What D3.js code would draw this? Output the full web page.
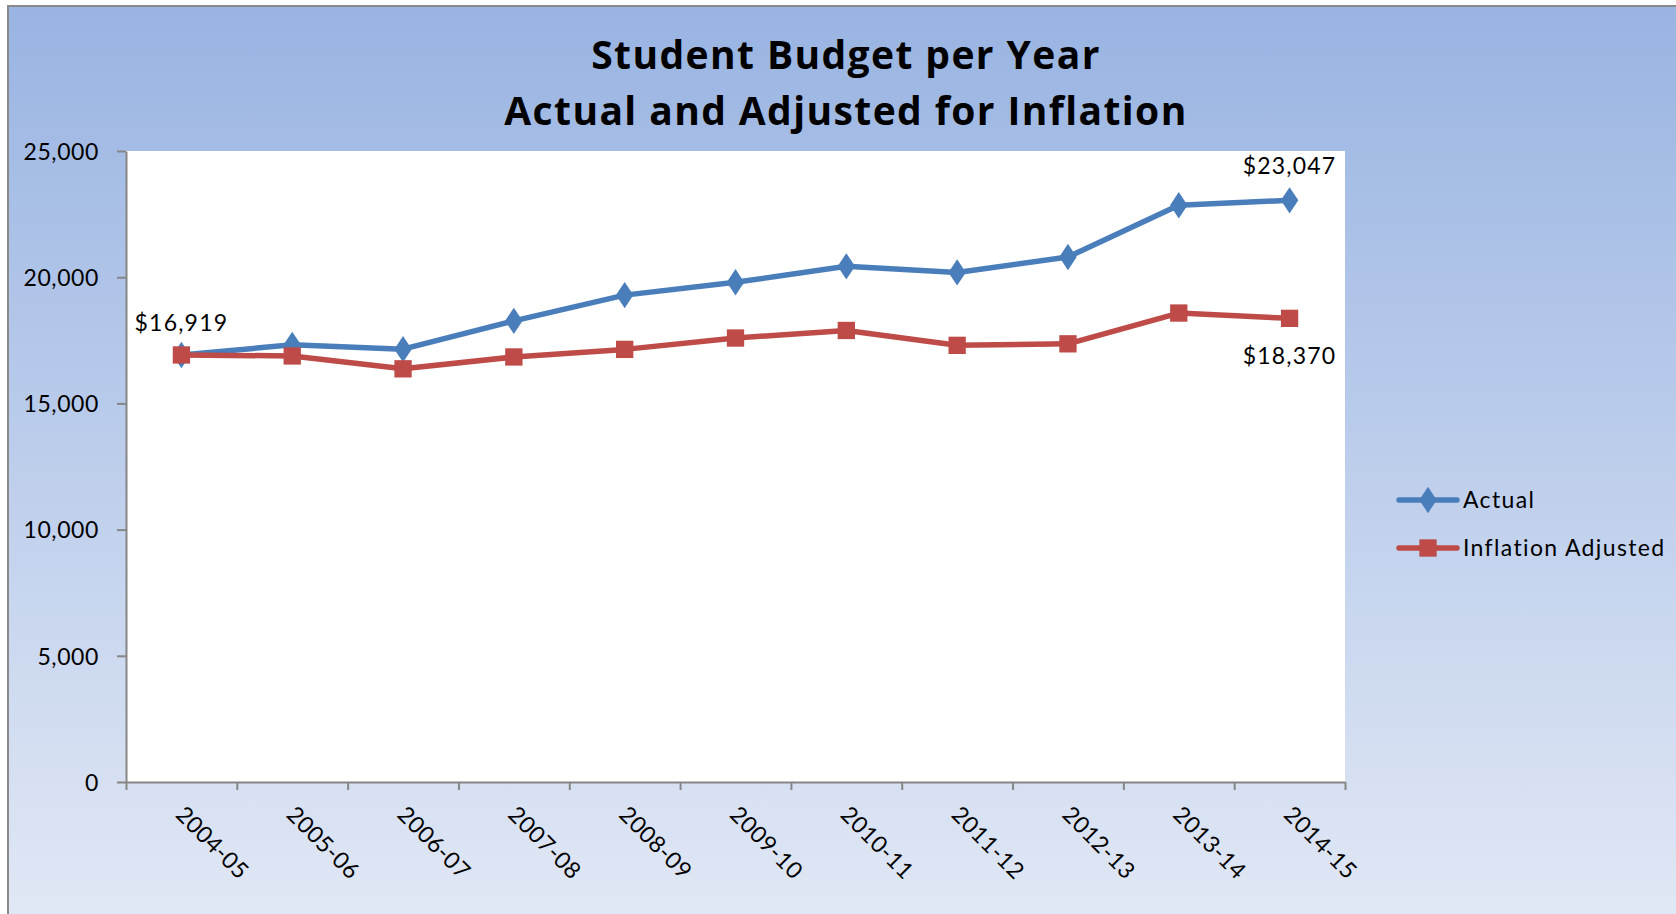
<!DOCTYPE html>
<html>
<head>
<meta charset="utf-8">
<script src="https://cdn.jsdelivr.net/npm/d3@7"></script>
<style>
  body { margin: 0; background: #fff; }
  text { font-family: Lato, "Open Sans", sans-serif; fill: #000; }
</style>
</head>
<body>
<div id="chart"></div>
<script>
// Data
const years = ["2004-05", "2005-06", "2006-07", "2007-08", "2008-09", "2009-10",
               "2010-11", "2011-12", "2012-13", "2013-14", "2014-15"];
const actual = [16919, 17320, 17150, 18270, 19290, 19800, 20430, 20190, 20800, 22850, 23047];
const adjusted = [16919, 16880, 16370, 16840, 17140, 17590, 17890, 17300, 17360, 18580, 18370];
const yTicks = [0, 5000, 10000, 15000, 20000, 25000];
const seriesNames = ["Actual", "Inflation Adjusted"];
const seriesColors = ["#4A7EBB", "#BE4B48"];

const W = 1676, H = 914;
const plot = { left: 126, top: 151, right: 1345, bottom: 782 };

const svg = d3.select("#chart")
    .append("svg")
    .attr("width", W)
    .attr("height", H);

// background gradient
const grad = svg.append("defs").append("linearGradient")
    .attr("id", "bg")
    .attr("x1", 0).attr("y1", 0).attr("x2", 0).attr("y2", 1);
grad.append("stop").attr("offset", "0%").attr("stop-color", "#99B4E2");
grad.append("stop").attr("offset", "100%").attr("stop-color", "#E1E8F5");

svg.append("rect")
    .attr("x", 8).attr("y", 6)
    .attr("width", W).attr("height", H)
    .attr("fill", "url(#bg)")
    .attr("stroke", "#8A8A8A")
    .attr("stroke-width", 2);

// plot area
svg.append("rect")
    .attr("x", plot.left).attr("y", plot.top)
    .attr("width", plot.right - plot.left)
    .attr("height", plot.bottom - plot.top)
    .attr("fill", "#fff");

// scales
const x = d3.scaleBand()
    .domain(years)
    .range([plot.left, plot.right])
    .padding(0);

const xEdges = d3.scaleLinear()
    .domain([0, years.length])
    .range([plot.left, plot.right]);

const y = d3.scaleLinear()
    .domain([0, 25000])
    .range([plot.bottom, plot.top]);

const cx = d => x(d) + x.bandwidth() / 2;

// y axis
const gy = svg.append("g")
    .attr("transform", `translate(${plot.left},0)`)
    .call(d3.axisLeft(y)
        .tickValues(yTicks)
        .tickFormat(d3.format(","))
        .tickSize(9)
        .tickSizeOuter(0)
        .tickPadding(18));
gy.selectAll("text")
    .style("font-size", "23px")
    .style("letter-spacing", "0.6px")
    .attr("dy", "0.36em");

// x axis: ticks between categories
const gx = svg.append("g")
    .attr("transform", `translate(0,${plot.bottom})`)
    .call(d3.axisBottom(xEdges)
        .tickValues(d3.range(years.length + 1))
        .tickFormat("")
        .tickSize(8)
        .tickSizeOuter(0));

[gx, gy].forEach(g => {
    g.select(".domain").attr("stroke", "#868686").attr("stroke-width", 2);
    g.selectAll(".tick line").attr("stroke", "#868686").attr("stroke-width", 2);
});

// rotated category labels
svg.append("g")
    .selectAll("text")
    .data(years)
    .join("text")
    .attr("transform", d => `translate(${cx(d) - 7},${plot.bottom + 34}) rotate(45)`)
    .attr("text-anchor", "start")
    .style("font-size", "23px")
    .style("letter-spacing", "0.4px")
    .text(d => d);

// title
const title = svg.append("text")
    .attr("x", 846)
    .attr("text-anchor", "middle")
    .style("font-family", "'Open Sans', Lato, sans-serif")
    .style("font-size", "39px")
    .style("font-weight", "bold")
    .style("letter-spacing", "1.4px");
title.append("tspan").attr("x", 846).attr("y", 69).text("Student Budget per Year");
title.append("tspan").attr("x", 846).attr("y", 125).text("Actual and Adjusted for Inflation");

// lines
const line = d3.line()
    .x((d, i) => cx(years[i]))
    .y(d => y(d));

const series = [actual, adjusted];
series.forEach((vals, k) => {
    svg.append("path")
        .datum(vals)
        .attr("fill", "none")
        .attr("stroke", seriesColors[k])
        .attr("stroke-width", 5.5)
        .attr("stroke-linejoin", "round")
        .attr("d", line);
});

// markers
const diamond = d3.symbol().type(d3.symbolDiamond).size(200);
const square = d3.symbol().type(d3.symbolSquare).size(300);

svg.append("g")
    .selectAll("path")
    .data(actual)
    .join("path")
    .attr("transform", (d, i) => `translate(${cx(years[i])},${y(d)}) scale(1.15,1)`)
    .attr("d", diamond)
    .attr("fill", seriesColors[0]);

svg.append("g")
    .selectAll("path")
    .data(adjusted)
    .join("path")
    .attr("transform", (d, i) => `translate(${cx(years[i])},${y(d)})`)
    .attr("d", square)
    .attr("fill", seriesColors[1]);

// data labels
const fmt = d => "$" + d3.format(",")(d);
const last = years.length - 1;
const labels = [
    { i: 0, v: actual[0], dy: -24 },
    { i: last, v: actual[last], dy: -26 },
    { i: last, v: adjusted[last], dy: 46 }
];
svg.append("g")
    .selectAll("text")
    .data(labels)
    .join("text")
    .attr("x", d => cx(years[d.i]))
    .attr("y", d => y(d.v) + d.dy)
    .attr("text-anchor", "middle")
    .style("font-size", "23px")
    .style("letter-spacing", "1.2px")
    .text(d => fmt(d.v));

// legend
const legend = svg.append("g");
seriesNames.forEach((name, k) => {
    const ly = 500 + k * 48;
    legend.append("line")
        .attr("x1", 1399).attr("x2", 1457)
        .attr("y1", ly).attr("y2", ly)
        .attr("stroke", seriesColors[k])
        .attr("stroke-width", 5.5)
        .attr("stroke-linecap", "round");
    legend.append("path")
        .attr("transform", k === 0 ? `translate(1428,${ly}) scale(1.15,1)` : `translate(1428,${ly})`)
        .attr("d", k === 0 ? diamond : square)
        .attr("fill", seriesColors[k]);
    legend.append("text")
        .attr("x", 1463)
        .attr("y", ly + 8)
        .style("font-size", "23px")
        .style("letter-spacing", "1.35px")
        .text(name);
});
</script>
</body>
</html>
